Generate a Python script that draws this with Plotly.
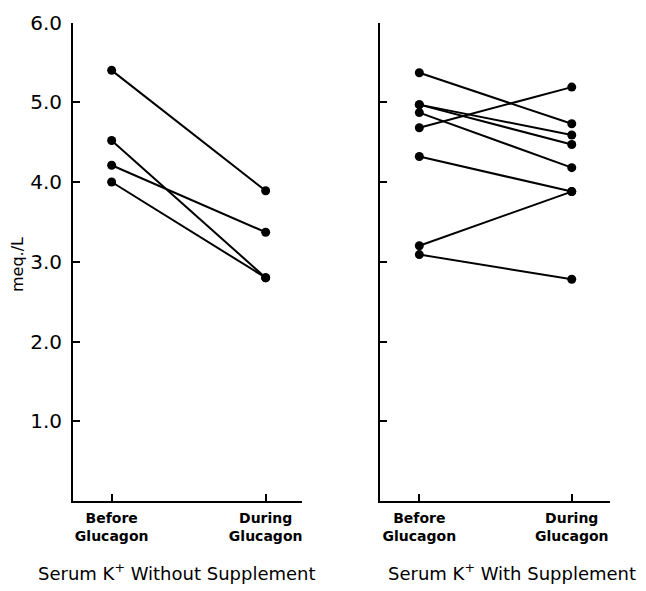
import plotly.graph_objects as go

# ---- data ----
categories = ["Before<br>Glucagon", "During<br>Glucagon"]
y_ticks = [1.0, 2.0, 3.0, 4.0, 5.0, 6.0]
y_tick_labels = ["1.0", "2.0", "3.0", "4.0", "5.0", "6.0"]

without_before = [5.40, 4.52, 4.21, 4.00]
without_during = [3.89, 2.80, 3.37, 2.80]

with_before = [5.37, 4.97, 4.97, 4.87, 4.68, 4.32, 3.20, 3.09]
with_during = [4.73, 4.59, 4.47, 4.18, 5.19, 3.88, 3.88, 2.78]

panel_titles = ["Serum K<sup>+</sup> Without Supplement", "Serum K<sup>+</sup> With Supplement"]
y_title = "meq./L"

W, H = 646, 591
FONT = "DejaVu Sans"

fig = go.Figure()

def add_pairs(before, during, xa, ya):
    for b, d in zip(before, during):
        fig.add_trace(go.Scatter(
            x=[0, 1], y=[b, d], mode="lines+markers",
            line=dict(color="black", width=2),
            marker=dict(color="black", size=9),
            xaxis=xa, yaxis=ya, showlegend=False, hoverinfo="skip"))

add_pairs(without_before, without_during, "x", "y")
add_pairs(with_before, with_during, "x2", "y2")

ydom = [(H - 501) / H, (H - 22.5) / H]

common_x = dict(showline=True, linecolor="black", linewidth=2, ticks="inside",
                ticklen=7, tickwidth=1.5, tickcolor="black", showgrid=False, zeroline=False,
                tickvals=[0, 1], ticktext=categories,
                tickfont=dict(family=FONT, size=14, color="black", weight="bold"),
                automargin=False, ticklabelstandoff=3)
common_y = dict(showline=True, linecolor="black", linewidth=2, ticks="inside",
                ticklen=7, tickwidth=1.5, tickcolor="black", showgrid=False, zeroline=False,
                range=[0, 6.0], tickvals=y_ticks, domain=ydom, automargin=False)

fig.update_layout(
    width=W, height=H,
    margin=dict(l=0, r=0, t=0, b=0),
    paper_bgcolor="white", plot_bgcolor="white",
    font=dict(family=FONT, color="black"),
    xaxis=dict(common_x, domain=[73 / W, 302 / W], range=[-0.251, 1.236], anchor="y"),
    yaxis=dict(common_y, anchor="x", ticktext=y_tick_labels,
               tickfont=dict(family=FONT, size=20, color="black"), ticklabelstandoff=5),
    xaxis2=dict(common_x, domain=[380 / W, 610 / W], range=[-0.258, 1.251], anchor="y2"),
    yaxis2=dict(common_y, anchor="x2", showticklabels=False),
)

fig.add_annotation(text=y_title, xref="paper", yref="paper", x=17 / W, y=(H - 265) / H,
                   xanchor="center", yanchor="middle",
                   textangle=-90, showarrow=False, font=dict(family=FONT, size=16, color="black"))
fig.add_annotation(text=panel_titles[0], xref="paper", yref="paper", x=177 / W, y=(H - 572) / H,
                   xanchor="center", yanchor="middle",
                   showarrow=False, font=dict(family=FONT, size=18, color="black"))
fig.add_annotation(text=panel_titles[1], xref="paper", yref="paper", x=512 / W, y=(H - 572) / H,
                   xanchor="center", yanchor="middle",
                   showarrow=False, font=dict(family=FONT, size=18, color="black"))

fig.write_html("out.html", config={"displayModeBar": False},
               post_script="document.body.style.margin='0';document.body.style.overflow='hidden';")
